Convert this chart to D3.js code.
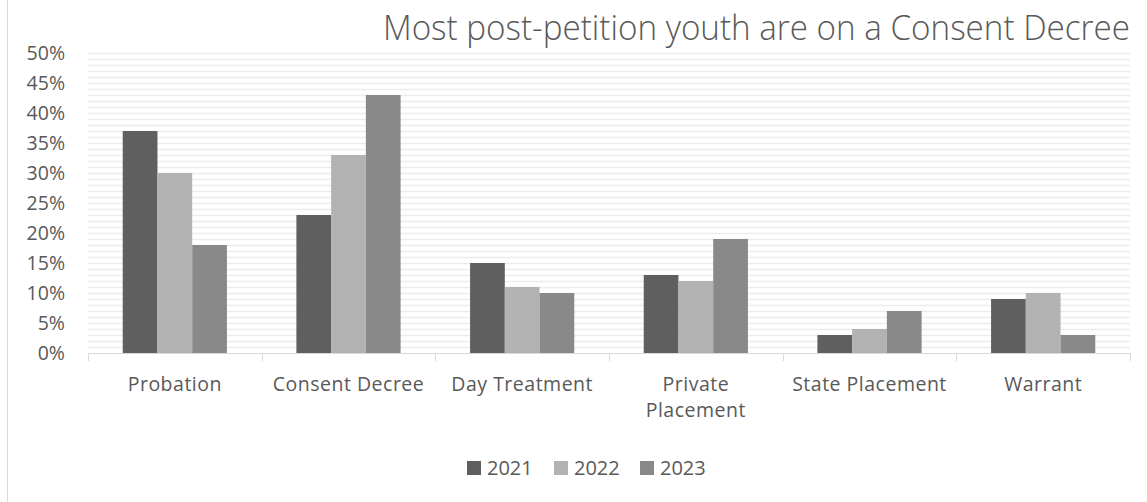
<!DOCTYPE html>
<html><head><meta charset="utf-8">
<script src="https://cdn.jsdelivr.net/npm/d3@7"></script>
<style>body{margin:0;background:#fff;} text{font-family:"Open Sans",sans-serif;}</style>
</head><body>
<svg id="chart" width="1147" height="502"></svg>
<script>
const categories = ["Probation","Consent Decree","Day Treatment","Private Placement","State Placement","Warrant"];
const seriesNames = ["2021","2022","2023"];
const values2021 = [37,23,15,13,3,9];
const values2022 = [30,33,11,12,4,10];
const values2023 = [18,43,10,19,7,3];
const yTicks = [0,5,10,15,20,25,30,35,40,45,50];
const colors = ["#5f5f5f","#b2b2b2","#898989"];
const title = "Most post-petition youth are on a Consent Decree";

(function(){
const series = [values2021, values2022, values2023];
const svg = d3.select("#chart");
const pLeft = 88, pRight = 1130, pTop = 53, pBottom = 353;
const fs = "19.5px";

svg.append("line").attr("x1",7.5).attr("x2",7.5).attr("y1",0).attr("y2",502).attr("stroke","#d9d9d9");

const y = d3.scaleLinear().domain([0,50]).range([pBottom, pTop]);
const x0 = d3.scaleBand().domain(categories).range([pLeft,pRight]).paddingInner(0.4).paddingOuter(0.2);
const x1 = d3.scaleBand().domain(seriesNames).range([0, x0.bandwidth()]);

const grid = d3.range(1,51);
svg.append("g").selectAll("line").data(grid).join("line")
  .attr("x1",pLeft).attr("x2",pRight)
  .attr("y1",d=>Math.round(y(d))+0.5).attr("y2",d=>Math.round(y(d))+0.5)
  .attr("stroke","#ececec").attr("stroke-width",1.5);

const g = svg.append("g");
categories.forEach((c,i)=>{
  seriesNames.forEach((s,j)=>{
    g.append("rect")
      .attr("x", x0(c)+x1(s))
      .attr("y", y(series[j][i]))
      .attr("width", x1.bandwidth())
      .attr("height", y(0)-y(series[j][i]))
      .attr("fill", colors[j]);
  });
});

svg.append("line").attr("x1",pLeft).attr("x2",pRight).attr("y1",pBottom+0.5).attr("y2",pBottom+0.5).attr("stroke","#d9d9d9");
const step = x0.step();
const bounds = d3.range(categories.length+1).map(k=>x0(categories[0]) - x0.paddingOuter()*step + k*step);
svg.append("g").selectAll("line").data(bounds).join("line")
  .attr("x1",d=>Math.round(d)+0.5).attr("x2",d=>Math.round(d)+0.5)
  .attr("y1",pBottom).attr("y2",pBottom+8).attr("stroke","#d9d9d9");

svg.append("g").selectAll("text").data(yTicks).join("text")
  .attr("x",65).attr("y",d=>y(d)).attr("dy","0.35em")
  .attr("text-anchor","end").attr("fill","#595959").attr("font-size",fs)
  .text(d=>d+"%");

const wrap = {"Private Placement":["Private","Placement"]};
categories.forEach(c=>{
  const lines = wrap[c] || [c];
  const t = svg.append("text").attr("text-anchor","middle").attr("fill","#595959")
    .attr("font-size",fs).attr("letter-spacing","0.5px");
  lines.forEach((ln,k)=>{
    t.append("tspan").attr("x", x0(c)+x0.bandwidth()/2).attr("y", 391 + k*26).text(ln);
  });
});

svg.append("text").attr("x",383).attr("y",40).attr("text-anchor","start")
  .attr("fill","#595959").attr("font-size","34px").attr("font-weight",300)
  .attr("textLength",747).attr("lengthAdjust","spacingAndGlyphs").text(title);

const legX = [467,554,640];
seriesNames.forEach((s,j)=>{
  svg.append("rect").attr("x",legX[j]).attr("y",461).attr("width",14).attr("height",14).attr("fill",colors[j]);
  svg.append("text").attr("x",legX[j]+20).attr("y",468).attr("dy","0.35em").attr("fill","#595959").attr("font-size","20px").text(s);
});
})();
</script>
</body></html>
